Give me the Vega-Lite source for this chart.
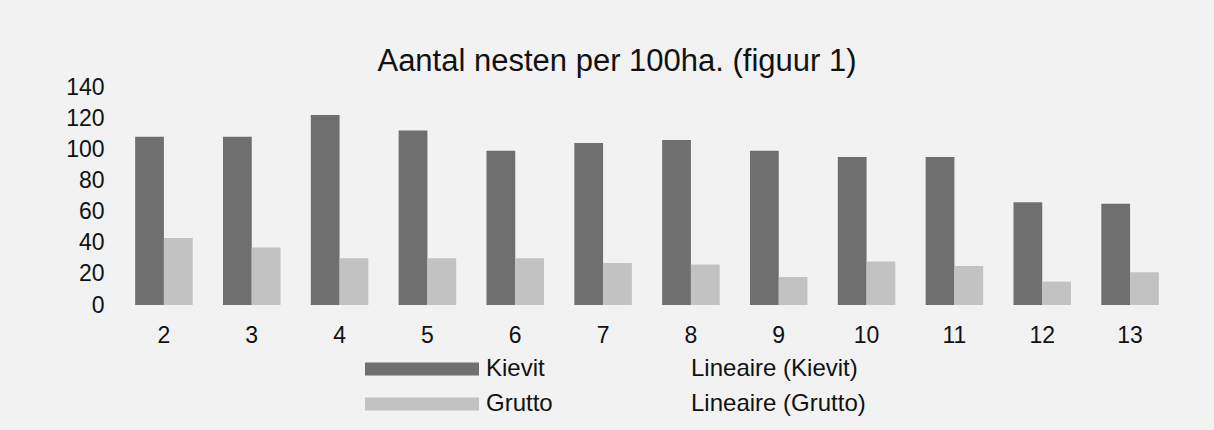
{
  "$schema": "https://vega.github.io/schema/vega-lite/v6.json",
  "width": 1054,
  "height": 218,
  "autosize": {"type": "none"},
  "padding": {"left": 120, "top": 87, "right": 40, "bottom": 125},
  "background": "#f2f2f2",
  "title": {
    "text": "Aantal nesten per 100ha. (figuur 1)",
    "fontSize": 31,
    "font": "Liberation Sans",
    "fontWeight": "normal",
    "color": "#111111",
    "anchor": "middle",
    "offset": -2,
    "dx": -30
  },
  "data": {
    "values": [
      {"jaar": 2, "soort": "Kievit", "aantal": 108},
      {"jaar": 2, "soort": "Grutto", "aantal": 43},
      {"jaar": 3, "soort": "Kievit", "aantal": 108},
      {"jaar": 3, "soort": "Grutto", "aantal": 37},
      {"jaar": 4, "soort": "Kievit", "aantal": 122},
      {"jaar": 4, "soort": "Grutto", "aantal": 30},
      {"jaar": 5, "soort": "Kievit", "aantal": 112},
      {"jaar": 5, "soort": "Grutto", "aantal": 30},
      {"jaar": 6, "soort": "Kievit", "aantal": 99},
      {"jaar": 6, "soort": "Grutto", "aantal": 30},
      {"jaar": 7, "soort": "Kievit", "aantal": 104},
      {"jaar": 7, "soort": "Grutto", "aantal": 27},
      {"jaar": 8, "soort": "Kievit", "aantal": 106},
      {"jaar": 8, "soort": "Grutto", "aantal": 26},
      {"jaar": 9, "soort": "Kievit", "aantal": 99},
      {"jaar": 9, "soort": "Grutto", "aantal": 18},
      {"jaar": 10, "soort": "Kievit", "aantal": 95},
      {"jaar": 10, "soort": "Grutto", "aantal": 28},
      {"jaar": 11, "soort": "Kievit", "aantal": 95},
      {"jaar": 11, "soort": "Grutto", "aantal": 25},
      {"jaar": 12, "soort": "Kievit", "aantal": 66},
      {"jaar": 12, "soort": "Grutto", "aantal": 15},
      {"jaar": 13, "soort": "Kievit", "aantal": 65},
      {"jaar": 13, "soort": "Grutto", "aantal": 21}
    ]
  },
  "mark": {"type": "bar"},
  "encoding": {
    "x": {
      "field": "jaar",
      "type": "ordinal",
      "scale": {"paddingInner": 0.345, "paddingOuter": 0.1725},
      "axis": {
        "title": null,
        "labelAngle": 0,
        "domain": false,
        "ticks": false,
        "labelFontSize": 23,
        "labelPadding": 19,
        "labelFont": "Liberation Sans",
        "labelColor": "#111111"
      }
    },
    "xOffset": {
      "field": "soort",
      "type": "nominal",
      "sort": ["Kievit", "Grutto"],
      "scale": {"paddingInner": 0, "paddingOuter": 0}
    },
    "y": {
      "field": "aantal",
      "type": "quantitative",
      "scale": {"domain": [0, 140], "nice": false},
      "axis": {
        "title": null,
        "values": [0, 20, 40, 60, 80, 100, 120, 140],
        "grid": false,
        "domain": false,
        "ticks": false,
        "labelFontSize": 23,
        "labelPadding": 16,
        "labelFont": "Liberation Sans",
        "labelColor": "#111111"
      }
    },
    "color": {
      "field": "soort",
      "type": "nominal",
      "scale": {
        "domain": ["Kievit", "Lineaire (Kievit)", "Grutto", "Lineaire (Grutto)"],
        "range": ["#6f6f6f", "transparent", "#c2c2c2", "transparent"]
      },
      "legend": {
        "title": null,
        "orient": "none",
        "legendX": 243,
        "legendY": 270,
        "direction": "horizontal",
        "columns": 2,
        "symbolType": "M-1,-0.65H10.4V0.65H-1Z",
        "symbolSize": 400,
        "symbolStrokeWidth": 0,
        "symbolOpacity": 1,
        "labelOffset": 99,
        "labelFontSize": 24,
        "labelFont": "Liberation Sans",
        "labelColor": "#111111",
        "labelLimit": 300,
        "columnPadding": 15,
        "rowPadding": 11,
        "padding": 0
      }
    }
  },
  "config": {"view": {"stroke": null}}
}
